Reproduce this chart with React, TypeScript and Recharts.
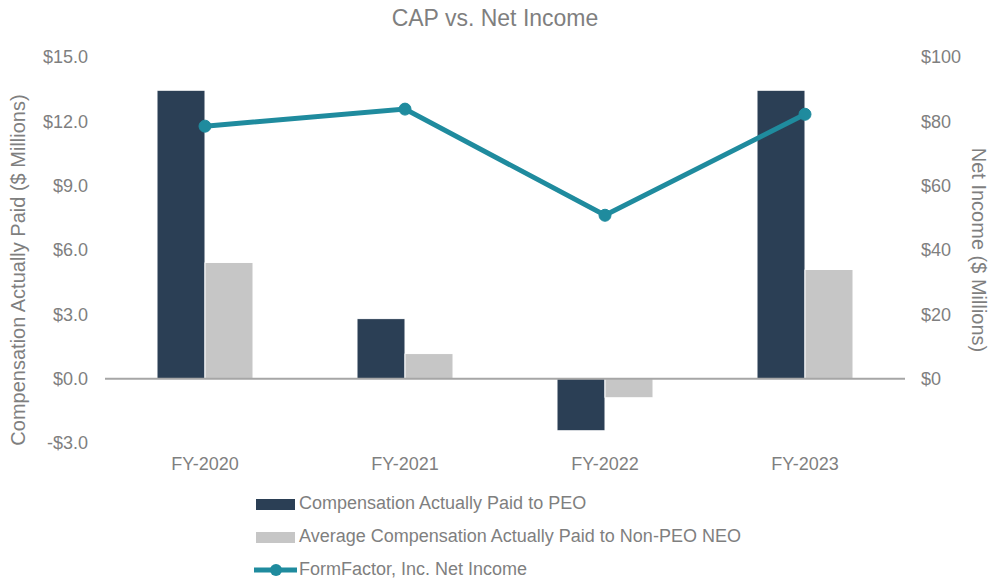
import { ComposedChart, Bar, Line, XAxis, YAxis, ReferenceLine, Legend } from 'recharts'

const years = ['FY-2020', 'FY-2021', 'FY-2022', 'FY-2023']
const peoCap = [13.45, 2.8, -2.43, 13.45]
const neoCap = [5.42, 1.17, -0.89, 5.09]
const netIncome = [78.5, 83.8, 50.8, 82.2]

const leftTicks = [-3, 0, 3, 6, 9, 12, 15]
const rightTicks = [0, 20, 40, 60, 80, 100]

const NAVY = '#2b3f55'
const GREY = '#c6c6c6'
const TEAL = '#1f8b9e'
const TEXT = '#7f7f7f'
const FONT = '"Liberation Sans", Arial, sans-serif'

const data = years.map((y, i) => ({
  year: y,
  peo: peoCap[i],
  neo: neoCap[i],
  ni: netIncome[i],
}))

const legendItems = [
  { name: 'Compensation Actually Paid to PEO', kind: 'bar', color: NAVY },
  { name: 'Average Compensation Actually Paid to Non-PEO NEO', kind: 'bar', color: GREY },
  { name: 'FormFactor, Inc. Net Income', kind: 'line', color: TEAL },
]

function LegendBox() {
  return (
    <div style={{ paddingLeft: 254, fontFamily: FONT, fontSize: 18, color: TEXT }}>
      {legendItems.map((it) => (
        <div key={it.name} style={{ display: 'flex', alignItems: 'center', height: 33 }}>
          <svg width={45} height={16}>
            {it.kind === 'bar' ? (
              <rect x={2} y={3} width={39} height={11} fill={it.color} />
            ) : (
              <g>
                <line x1={0} y1={8} x2={43} y2={8} stroke={it.color} strokeWidth={5} />
                <circle cx={22} cy={8} r={6} fill={it.color} />
              </g>
            )}
          </svg>
          <span>{it.name}</span>
        </div>
      ))}
    </div>
  )
}

const leftLabel = (props: any) => {
  const vb = props.viewBox
  const cx = 18
  const cy = vb.y + vb.height / 2 + 20
  return (
    <text x={cx} y={cy} transform={`rotate(-90, ${cx}, ${cy})`} textAnchor="middle" dominantBaseline="central" fill={TEXT} fontSize={20} fontFamily={FONT}>
      Compensation Actually Paid ($ Millions)
    </text>
  )
}

const rightLabel = () => {
  const cx = 979
  const cy = 250
  return (
    <text x={cx} y={cy} transform={`rotate(90, ${cx}, ${cy})`} textAnchor="middle" dominantBaseline="central" fill={TEXT} fontSize={20} fontFamily={FONT}>
      Net Income ($ Millions)
    </text>
  )
}

export default function App() {
  return (
    <div style={{ position: 'absolute', left: 0, top: 0, width: 990, height: 583, background: '#fff' }}>
      <div style={{ position: 'absolute', top: 5, width: 990, textAlign: 'center', fontFamily: FONT, fontSize: 23, color: TEXT }}>
        CAP vs. Net Income
      </div>
      <ComposedChart width={990} height={583} data={data} margin={{ top: 57, right: 0, left: 0, bottom: 0 }} barGap={0}>
        <XAxis dataKey="year" axisLine={false} tickLine={false} tickMargin={8} height={40} tick={{ fill: TEXT, fontSize: 18, fontFamily: FONT }} />
        <YAxis
          yAxisId="left"
          width={105}
          domain={[-3, 15]}
          ticks={leftTicks}
          axisLine={false}
          tickLine={false}
          tickMargin={11}
          tickFormatter={(v: number) => (v < 0 ? `-$${Math.abs(v).toFixed(1)}` : `$${v.toFixed(1)}`)}
          tick={{ fill: TEXT, fontSize: 18, fontFamily: FONT }}
          label={leftLabel}
        />
        <YAxis
          yAxisId="right"
          orientation="right"
          width={85}
          domain={[-20, 100]}
          ticks={rightTicks}
          axisLine={false}
          tickLine={false}
          tickMargin={10}
          tickFormatter={(v: number) => `$${v}`}
          tick={{ fill: TEXT, fontSize: 18, fontFamily: FONT }}
          label={rightLabel}
        />
        <Legend verticalAlign="bottom" content={<LegendBox />} wrapperStyle={{ height: 100, paddingTop: 4, boxSizing: 'border-box', overflow: 'visible' }} />
        <Bar yAxisId="left" dataKey="peo" name="Compensation Actually Paid to PEO" fill={NAVY} stroke="#fff" strokeWidth={1} barSize={48} isAnimationActive={false} />
        <Bar yAxisId="left" dataKey="neo" name="Average Compensation Actually Paid to Non-PEO NEO" fill={GREY} stroke="#fff" strokeWidth={1} barSize={48} isAnimationActive={false} />
        <ReferenceLine yAxisId="left" y={0} stroke="#a6a6a6" strokeWidth={2} />
        <Line yAxisId="right" dataKey="ni" name="FormFactor, Inc. Net Income" stroke={TEAL} strokeWidth={5} dot={{ r: 6, fill: TEAL, stroke: TEAL, strokeWidth: 1 }} isAnimationActive={false} />
      </ComposedChart>
    </div>
  )
}
